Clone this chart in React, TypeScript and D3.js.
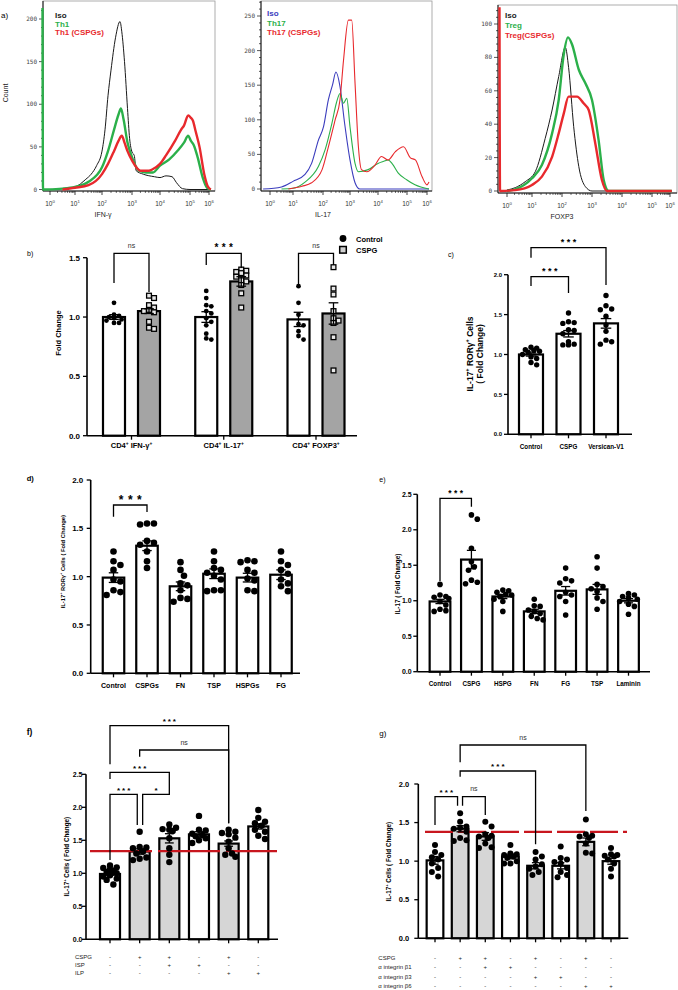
import React from 'react';
import * as d3 from 'd3';

const FONT = "'Liberation Sans', Arial, Helvetica, sans-serif";
const GREEN = '#2bb04a';
const RED = '#e8292d';
const BLUE = '#3b3dbd';
const ISO = '#1a1a1a';
const DASH_RED = '#c8161e';
const BAR_GREY = '#a4a4a4';
const BAR_LIGHT = '#d6d6d6';

// ---------------- a) flow cytometry histograms: [log10 decade, count] ----------------
const decades = [0, 1, 2, 3, 4, 5, 6];

const th1Legend = ['Iso', 'Th1', 'Th1 (CSPGs)'];
const th1Iso = [[0,0],[0.5,1],[1,3],[1.4,12],[1.6,18],[1.8,28],[2,45],[2.1,70],[2.2,110],[2.3,140],[2.45,178],[2.6,197],[2.66,185],[2.75,150],[2.85,95],[2.92,60],[3.0,44],[3.08,40],[3.15,22],[3.4,18],[3.8,15],[4.0,14],[4.2,16],[4.4,15],[4.55,8],[4.75,1],[5,0],[6.1,0]];
const th1Ctrl = [[-0.3,213],[-0.28,0],[0.5,1],[1,3],[1.5,9],[2,26],[2.2,45],[2.4,70],[2.55,88],[2.63,95],[2.72,82],[2.85,55],[3.0,38],[3.25,22],[3.5,20],[3.75,20],[4,28],[4.3,35],[4.6,46],[4.8,55],[4.94,63],[5.05,57],[5.2,52],[5.4,38],[5.67,14],[5.9,2],[6.1,0]];
const th1Cspg = [[0.5,0],[1,2],[1.5,5],[2,18],[2.2,30],[2.4,45],[2.55,57],[2.66,63],[2.75,55],[2.85,45],[3.0,34],[3.3,22],[3.6,22],[3.75,24],[4,30],[4.2,40],[4.5,57],[4.7,70],[4.8,75],[4.94,87],[5.05,84],[5.15,81],[5.3,68],[5.5,50],[5.75,18],[5.95,3],[6.1,0]];

const th17Legend = ['Iso', 'Th17', 'Th17 (CSPGs)'];
const th17Iso = [[-0.3,0],[0.5,3],[1,11],[1.4,21],[1.62,37],[1.85,71],[2.02,90],[2.2,129],[2.35,150],[2.48,169],[2.63,148],[2.8,95],[3,42],[3.18,9],[3.35,0],[6.1,0]];
const th17Ctrl = [[0.5,0],[1,1],[1.4,10],[1.85,33],[2.08,57],[2.33,95],[2.5,125],[2.63,138],[2.76,124],[2.88,131],[3,90],[3.18,37],[3.3,25],[3.65,28],[4,37],[4.2,40],[4.35,42],[4.5,36],[4.7,23],[5,13],[5.4,6],[6.1,0]];
const th17Cspg = [[0.8,0],[1.3,4],[1.62,9],[1.97,28],[2.2,61],[2.45,100],[2.63,129],[2.76,186],[2.94,244],[3.06,244],[3.18,153],[3.3,61],[3.41,28],[3.6,25],[3.9,35],[4.12,47],[4.35,42],[4.6,54],[4.88,61],[5.17,45],[5.42,42],[5.75,18],[6,6],[6.1,10]];

const tregLegend = ['Iso', 'Treg', 'Treg(CSPGs)'];
const tregIso = [[0,0.6],[0.33,2],[0.73,5.6],[1.11,11.6],[1.44,31.5],[1.67,48.5],[1.89,68.5],[2.11,86],[2.22,74],[2.39,38.5],[2.56,14.6],[2.78,2.6],[3,0],[6.1,0]];
const tregCtrl = [[0,0],[0.33,1],[1,7.6],[1.33,15.6],[1.67,34.5],[1.89,54.5],[2.06,82],[2.2,92],[2.33,88],[2.56,72.6],[2.78,64.5],[3,54.5],[3.22,30.5],[3.39,6.6],[3.56,0],[6.1,0]];
const tregCspg = [[-0.3,110],[-0.28,0],[0.33,0.5],[1,3.6],[1.33,8.6],[1.67,20.5],[1.89,34.5],[2.06,46.5],[2.22,56.5],[2.5,56.5],[2.72,52.5],[2.89,48.5],[3.11,28.5],[3.33,6.6],[3.5,0],[6.1,0]];

// ---------------- b) ----------------
const bGroups = ['IFN-γ', 'IL-17', 'FOXP3'];
const bCtrlMean = [1.0, 1.0, 0.98];
const bCtrlSem = [0.02, 0.045, 0.06];
const bCspgMean = [1.05, 1.30, 1.03];
const bCspgSem = [0.02, 0.04, 0.09];
const bCtrlPts = [
  [1.12, 1.02, 1.01, 1.0, 0.99, 0.98, 0.95, 0.95, 0.97],
  [1.22, 1.16, 1.10, 1.09, 1.05, 1.03, 0.99, 0.96, 0.93, 0.86, 0.81, 0.82],
  [1.26, 1.12, 1.02, 0.94, 0.93, 0.88, 0.84, 0.81],
];
const bCspgPts = [
  [1.18, 1.16, 1.10, 1.08, 1.06, 1.05, 1.04, 0.96, 0.90, 0.91],
  [1.40, 1.39, 1.38, 1.37, 1.35, 1.34, 1.31, 1.30, 1.27, 1.20, 1.08],
  [1.42, 1.24, 1.19, 1.05, 0.99, 0.97, 0.95, 0.83, 0.55],
];

// ---------------- c) ----------------
const cCats = ['Control', 'CSPG', 'Versican-V1'];
const cMean = [1.0, 1.26, 1.39];
const cSem = [0.02, 0.04, 0.06];
const cPts = [
  [1.09, 1.08, 1.06, 1.05, 1.04, 1.03, 1.0, 0.97, 0.95, 0.90, 0.87],
  [1.52, 1.41, 1.40, 1.39, 1.31, 1.30, 1.26, 1.16, 1.13, 1.12, 1.12],
  [1.74, 1.61, 1.57, 1.56, 1.48, 1.37, 1.29, 1.18, 1.16, 1.13],
];

// ---------------- d) ----------------
const dCats = ['Control', 'CSPGs', 'FN', 'TSP', 'HSPGs', 'FG'];
const dMean = [0.99, 1.32, 0.90, 1.03, 0.99, 1.02];
const dSem = [0.05, 0.05, 0.045, 0.05, 0.045, 0.05];
const dPts = [
  [1.26, 1.16, 1.12, 1.07, 0.97, 0.95, 0.86, 0.84, 0.81],
  [1.55, 1.55, 1.54, 1.37, 1.35, 1.33, 1.26, 1.16, 1.09],
  [1.15, 1.07, 1.01, 0.93, 0.91, 0.86, 0.78, 0.77, 0.74],
  [1.26, 1.16, 1.09, 1.07, 1.04, 1.01, 0.97, 0.86, 0.85, 0.86],
  [1.17, 1.16, 1.15, 1.07, 1.04, 0.98, 0.96, 0.86, 0.85],
  [1.26, 1.16, 1.12, 1.07, 1.03, 0.97, 0.93, 0.90, 0.85],
];

// ---------------- e) ----------------
const eCats = ['Control', 'CSPG', 'HSPG', 'FN', 'FG', 'TSP', 'Laminin'];
const eMean = [0.99, 1.58, 1.06, 0.85, 1.14, 1.16, 1.0];
const eSem = [0.03, 0.13, 0.03, 0.03, 0.06, 0.07, 0.03];
const ePts = [
  [1.23, 1.08, 1.06, 1.05, 1.03, 0.99, 0.94, 0.88, 0.86, 0.85],
  [2.21, 2.15, 1.74, 1.55, 1.48, 1.43, 1.29, 1.26, 1.24],
  [1.15, 1.14, 1.12, 1.09, 1.08, 1.06, 1.02, 0.99, 0.85],
  [1.02, 0.93, 0.92, 0.87, 0.85, 0.82, 0.78, 0.75, 0.73],
  [1.46, 1.31, 1.28, 1.25, 1.12, 1.08, 1.06, 0.99, 0.80],
  [1.62, 1.46, 1.23, 1.20, 1.17, 1.13, 1.04, 0.99, 0.88],
  [1.10, 1.08, 1.06, 1.04, 1.02, 0.99, 0.95, 0.92, 0.81],
];

// ---------------- f) ----------------
const fCspg = ['-', '+', '+', '-', '+', '-'];
const fIsp = ['-', '-', '+', '+', '-', '-'];
const fIlp = ['-', '-', '-', '-', '+', '+'];
const fMean = [0.99, 1.33, 1.53, 1.59, 1.45, 1.71];
const fSem = [0.02, 0.04, 0.07, 0.04, 0.04, 0.04];
const fThreshold = 1.335;
const fPts = [
  [1.12, 1.09, 1.08, 1.06, 1.04, 1.02, 1.0, 0.97, 0.95, 0.92, 0.90, 0.83],
  [1.63, 1.40, 1.39, 1.38, 1.33, 1.30, 1.24, 1.22, 1.20],
  [1.74, 1.69, 1.67, 1.66, 1.64, 1.53, 1.38, 1.28, 1.17],
  [1.87, 1.66, 1.65, 1.60, 1.58, 1.56, 1.53, 1.50, 1.46],
  [1.66, 1.63, 1.61, 1.59, 1.54, 1.48, 1.38, 1.30, 1.28, 1.25],
  [1.96, 1.84, 1.78, 1.76, 1.72, 1.66, 1.63, 1.57, 1.52],
];

// ---------------- g) ----------------
const gCspg = ['-', '+', '+', '-', '+', '-', '+', '-'];
const gB1 = ['-', '-', '+', '+', '-', '-', '-', '-'];
const gB3 = ['-', '-', '-', '-', '+', '+', '-', '-'];
const gB6 = ['-', '-', '-', '-', '-', '-', '+', '+'];
const gMean = [1.01, 1.42, 1.32, 1.06, 0.94, 0.94, 1.25, 1.0];
const gSem = [0.05, 0.04, 0.05, 0.03, 0.04, 0.04, 0.05, 0.04];
const gThreshold = 1.38;
const gPts = [
  [1.21, 1.12, 1.08, 1.05, 1.02, 0.97, 0.91, 0.86, 0.80],
  [1.62, 1.51, 1.45, 1.43, 1.42, 1.38, 1.30, 1.27, 1.26],
  [1.51, 1.45, 1.35, 1.33, 1.32, 1.30, 1.23, 1.18, 1.17],
  [1.21, 1.10, 1.09, 1.08, 1.06, 1.04, 1.0, 0.97, 0.97],
  [1.12, 1.06, 1.02, 0.96, 0.93, 0.90, 0.86, 0.82],
  [1.19, 1.04, 1.02, 0.99, 0.97, 0.91, 0.86, 0.82, 0.79],
  [1.54, 1.35, 1.33, 1.32, 1.30, 1.23, 1.11, 1.10],
  [1.17, 1.09, 1.08, 1.07, 1.06, 1.02, 0.97, 0.90, 0.80],
];

// ---------------- helpers ----------------
function Rich({ s, fs }: { s: string; fs: number }) {
  const parts = s.split('^');
  const out: any[] = [];
  parts.forEach((p, i) => {
    if (i === 0) { out.push(<tspan key={'a' + i}>{p}</tspan>); return; }
    out.push(<tspan key={'s' + i} dy={-fs * 0.42} fontSize={fs * 0.65}>{p[0]}</tspan>);
    if (p.length > 1) out.push(<tspan key={'r' + i} dy={fs * 0.42} fontSize={fs}>{p.slice(1)}</tspan>);
  });
  return <>{out}</>;
}

function swarm(vals: number[], yf: (v: number) => number, r: number, maxOff: number) {
  const placed: { x: number; y: number }[] = [];
  const out = vals.map(() => 0);
  const order = vals.map((_, i) => i).sort((a, b) => vals[b] - vals[a]);
  const step = r * 1.05;
  for (const i of order) {
    const py = yf(vals[i]);
    let best = 0; let bestD = -1;
    for (let k = 0; k < 15; k++) {
      const off = k === 0 ? 0 : (k % 2 ? 1 : -1) * Math.ceil(k / 2) * step;
      if (Math.abs(off) > maxOff) continue;
      let md = Infinity;
      for (const q of placed) md = Math.min(md, Math.hypot(q.x - off, q.y - py));
      if (md >= 1.9 * r) { best = off; bestD = md; break; }
      if (md > bestD) { bestD = md; best = off; }
    }
    placed.push({ x: best, y: py });
    out[i] = best;
  }
  return out;
}

function Hist(p: any) {
  const x = d3.scaleLinear().domain(decades).range(p.decPx);
  const y = d3.scaleLinear().domain([0, p.yRef[0]]).range([p.yZero, p.yRef[1]]);
  const line = d3.line<any>().x((d) => x(d[0])).y((d) => y(d[1])).curve(d3.curveMonotoneX);
  const minor = d3.range(0, 400, p.yMinor).filter((m) => y(m) >= p.top + 1);
  const xMinor: number[] = [];
  for (let d = 0; d < 6; d++) for (let k = 2; k < 10; k++) xMinor.push(d + Math.log10(k));
  const cid = 'clip-' + p.id;
  return (
    <g>
      <defs>
        <clipPath id={cid}>
          <rect x={p.left - 2} y={p.top} width={p.right - p.left + 2} height={p.bottom - p.top} />
        </clipPath>
      </defs>
      <rect x={p.left} y={p.top} width={p.right - p.left} height={p.bottom - p.top} fill="none" stroke="#9a9a9a" strokeWidth={0.8} />
      <line x1={p.left} x2={p.left} y1={p.top} y2={p.bottom} stroke="#111" strokeWidth={1} />
      <line x1={p.left} x2={p.right} y1={p.bottom} y2={p.bottom} stroke="#111" strokeWidth={1} />
      {minor.map((m) => (
        <line key={'ym' + m} x1={p.left - (p.yTicks.includes(m) ? 4 : 2)} x2={p.left} y1={y(m)} y2={y(m)} stroke="#111" strokeWidth={0.7} />
      ))}
      {p.yTicks.map((t: number) => (
        <text key={'yt' + t} x={p.left - 6} y={y(t) + 2} fontSize={6} textAnchor="end" fill="#444" fontFamily="'DejaVu Sans Mono', monospace">{t}</text>
      ))}
      {xMinor.map((d, i) => (
        <line key={'xm' + i} x1={x(d)} x2={x(d)} y1={p.bottom} y2={p.bottom + 2} stroke="#111" strokeWidth={0.6} />
      ))}
      {decades.map((d) => (
        <g key={'xd' + d}>
          <line x1={x(d)} x2={x(d)} y1={p.bottom} y2={p.bottom + 4} stroke="#111" strokeWidth={0.8} />
          <text x={x(d)} y={p.bottom + 15} fontSize={6.5} textAnchor="middle" fill="#333"><Rich s={'10^' + d} fs={6.5} /></text>
        </g>
      ))}
      <text x={p.xLabelX} y={p.bottom + 26} fontSize={7} textAnchor="middle" fill="#222">{p.xLabel}</text>
      <g clipPath={`url(#${cid})`}>
        {p.series.map((s: any, i: number) => (
          <path key={i} d={line(s.data) || ''} fill="none" stroke={s.color} strokeWidth={s.width} strokeLinejoin="round" />
        ))}
      </g>
      {p.legend.map((l: string, i: number) => (
        <text key={'lg' + i} x={p.legendX} y={p.legendY + i * p.legendDy} fontSize={8} fontWeight="bold" fill={p.series[i].color}>{l}</text>
      ))}
    </g>
  );
}

function BarPanel({ cfg, items }: any) {
  const y = d3.scaleLinear().domain([0, cfg.yMax]).range([cfg.y0, cfg.yTop]);
  const fmt = d3.format('.1f');
  const xs: number[] = cfg.xs;
  const bw = cfg.bw;
  return (
    <g>
      {items.map((it: any, i: number) => (
        <rect key={'b' + i} x={xs[i] - bw / 2} y={y(it.v)} width={bw} height={cfg.y0 - y(it.v)} fill={it.fill} stroke="#000" strokeWidth={cfg.sw} />
      ))}
      {cfg.threshold != null && (
        <line x1={cfg.thrX[0]} x2={cfg.thrX[1]} y1={y(cfg.threshold)} y2={y(cfg.threshold)} stroke={DASH_RED} strokeWidth={2.2} strokeDasharray={cfg.dash} />
      )}
      {items.map((it: any, i: number) => {
        const r = cfg.r;
        const offs = swarm(it.pts, y, r, bw / 2 - r * 0.4);
        return (
          <g key={'p' + i}>
            {it.pts.map((v: number, j: number) =>
              it.marker === 'square' ? (
                <rect key={j} x={xs[i] + offs[j] - r} y={y(v) - r} width={2 * r} height={2 * r} fill="#e8e8e8" stroke="#000" strokeWidth={1.3} />
              ) : (
                <circle key={j} cx={xs[i] + offs[j]} cy={y(v)} r={r} fill="#000" />
              )
            )}
          </g>
        );
      })}
      {items.map((it: any, i: number) => {
        const cw = bw * 0.22;
        return (
          <g key={'e' + i} stroke="#000" strokeWidth={1.3}>
            <line x1={xs[i]} x2={xs[i]} y1={y(it.v - it.e)} y2={y(it.v + it.e)} />
            <line x1={xs[i] - cw} x2={xs[i] + cw} y1={y(it.v + it.e)} y2={y(it.v + it.e)} />
            <line x1={xs[i] - cw} x2={xs[i] + cw} y1={y(it.v - it.e)} y2={y(it.v - it.e)} />
          </g>
        );
      })}
      {/* axes */}
      <line x1={cfg.axisX} x2={cfg.axisX} y1={cfg.y0} y2={cfg.yTop} stroke="#000" strokeWidth={1.6} />
      <line x1={cfg.axisX} x2={cfg.axisEnd} y1={cfg.y0} y2={cfg.y0} stroke="#000" strokeWidth={1.6} />
      {cfg.ticks.map((t: number) => (
        <g key={'t' + t}>
          <line x1={cfg.axisX - 4} x2={cfg.axisX} y1={y(t)} y2={y(t)} stroke="#000" strokeWidth={1.3} />
          <text x={cfg.axisX - cfg.tickGap} y={y(t) + cfg.tickFs * 0.36} fontSize={cfg.tickFs} fontWeight="bold" textAnchor="end">{fmt(t)}</text>
        </g>
      ))}
      {cfg.tickXs.map((tx: number, i: number) => (
        <line key={'xt' + i} x1={tx} x2={tx} y1={cfg.y0} y2={cfg.y0 + 4} stroke="#000" strokeWidth={1.3} />
      ))}
      {(cfg.brackets || []).map((br: any, i: number) => {
        const xa = xs[br.a] + (br.oa || 0);
        const xb = xs[br.b] + (br.ob || 0);
        const mid = (xa + xb) / 2;
        const star = br.t !== 'ns';
        return (
          <g key={'br' + i}>
            <path d={`M${xa},${br.ya}V${br.y}H${xb}V${br.yb}`} fill="none" stroke="#000" strokeWidth={1.3} />
            {star ? (
              <text x={mid + cfg.starLs / 2} y={br.y - cfg.starGap} fontSize={cfg.starFs} fontWeight="bold" letterSpacing={cfg.starLs} textAnchor="middle">{br.t}</text>
            ) : (
              <text x={mid} y={br.y - 5.5} fontSize={7} textAnchor="middle" fill="#333">{br.t}</text>
            )}
          </g>
        );
      })}
    </g>
  );
}

function YLabel({ x, y, s, fs }: any) {
  return (
    <text transform={`translate(${x},${y}) rotate(-90)`} fontSize={fs} fontWeight="bold" textAnchor="middle">
      <Rich s={s} fs={fs} />
    </text>
  );
}

function TableRows({ rows, labelX, ys, xs, fs }: any) {
  return (
    <g fontSize={fs} fill="#222">
      {rows.map((row: any, ri: number) => (
        <g key={ri}>
          <text x={labelX} y={ys[ri]}>{row.label}</text>
          {row.vals.map((v: string, i: number) => (
            <text key={i} x={xs[i]} y={ys[ri]} textAnchor="middle">{v}</text>
          ))}
        </g>
      ))}
    </g>
  );
}

export default function App() {
  // ---- b layout ----
  const bxg = d3.scalePoint<string>().domain(bGroups).range([131.5, 316]);
  const bItems: any[] = [];
  const bXs: number[] = [];
  bGroups.forEach((g, i) => {
    bItems.push({ v: bCtrlMean[i], e: bCtrlSem[i], pts: bCtrlPts[i], fill: '#fff', marker: 'circle' });
    bXs.push((bxg(g) as number) - 17.5);
    bItems.push({ v: bCspgMean[i], e: bCspgSem[i], pts: bCspgPts[i], fill: BAR_GREY, marker: 'square' });
    bXs.push((bxg(g) as number) + 17.5);
  });
  const bGX = bGroups.map((g) => bxg(g) as number);

  const pointScale = (cats: string[], r0: number, r1: number) => {
    const s = d3.scalePoint<string>().domain(cats).range([r0, r1]);
    return cats.map((c) => s(c) as number);
  };

  const cXs = pointScale(cCats, 531, 606);
  const dXs = pointScale(dCats, 113.5, 281);
  const eXs = pointScale(eCats, 440, 628.5);
  const fIdx = fMean.map((_, i) => 'f' + i);
  const fXs = pointScale(fIdx, 110, 258.3);
  const gIdx = gMean.map((_, i) => 'g' + i);
  const gXs = pointScale(gIdx, 435, 611);

  const mk = (means: number[], sems: number[], pts: number[][], fills: string[]) =>
    means.map((v, i) => ({ v, e: sems[i], pts: pts[i], fill: fills[i], marker: 'circle' }));

  const cItems = mk(cMean, cSem, cPts, cCats.map(() => '#fff'));
  const dItems = mk(dMean, dSem, dPts, dCats.map(() => '#fff'));
  const eItems = mk(eMean, eSem, ePts, eCats.map(() => '#fff'));
  const fItems = mk(fMean, fSem, fPts, fCspg.map((s) => (s === '+' ? BAR_LIGHT : '#fff')));
  const gItems = mk(gMean, gSem, gPts, gCspg.map((s) => (s === '+' ? BAR_LIGHT : '#fff')));

  return (
    <svg width={678} height={990} viewBox="0 0 678 990" style={{ position: 'absolute', left: 0, top: 0, background: '#fff' }} fontFamily={FONT}>
      <rect width={678} height={990} fill="#fff" />

      {/* ===== a ===== */}
      <text x={1} y={18} fontSize={8}>a)</text>
      <text transform="translate(8,93) rotate(-90)" fontSize={7} textAnchor="middle" fill="#222">Count</text>
      <Hist id="h1" left={43} right={215} top={1} bottom={191} decPx={[50, 75, 102, 132, 160, 190, 209]}
        yZero={189.5} yRef={[200, 19]} yTicks={[0, 50, 100, 150, 200]} yMinor={10}
        series={[{ data: th1Iso, color: ISO, width: 1 }, { data: th1Ctrl, color: GREEN, width: 2.4 }, { data: th1Cspg, color: RED, width: 2.4 }]}
        legend={th1Legend} legendX={55} legendY={18.3} legendDy={8.3} xLabel="IFN-γ" xLabelX={103} />
      <Hist id="h2" left={261} right={432} top={1} bottom={191} decPx={[270, 293, 323, 350, 378, 407, 427]}
        yZero={189} yRef={[250, 16]} yTicks={[0, 50, 100, 150, 200, 250]} yMinor={10}
        series={[{ data: th17Iso, color: BLUE, width: 1.1 }, { data: th17Ctrl, color: GREEN, width: 1.1 }, { data: th17Cspg, color: RED, width: 1.1 }]}
        legend={th17Legend} legendX={267} legendY={16} legendDy={9.6} xLabel="IL-17" xLabelX={323} />
      <Hist id="h3" left={498} right={677} top={5} bottom={193} decPx={[507, 532, 562, 592, 622, 652, 670]}
        yZero={191} yRef={[100, 24]} yTicks={[0, 20, 40, 60, 80, 100]} yMinor={4}
        series={[{ data: tregIso, color: ISO, width: 1 }, { data: tregCtrl, color: GREEN, width: 2.4 }, { data: tregCspg, color: RED, width: 2.4 }]}
        legend={tregLegend} legendX={505} legendY={18.3} legendDy={9.7} xLabel="FOXP3" xLabelX={562} />

      {/* ===== b ===== */}
      <text x={27} y={255.5} fontSize={7}>b)</text>
      <YLabel x={60.5} y={333} s="Fold Change" fs={7.5} />
      <BarPanel items={bItems} cfg={{
        xs: bXs, bw: 22, axisX: 87, axisEnd: 357, y0: 435.7, yTop: 257.7, yMax: 1.5, ticks: [0, 0.5, 1, 1.5],
        tickFs: 8, tickGap: 7, r: 2.4, sw: 2.2, tickXs: bGX, starFs: 10, starLs: 3.4, starGap: 2.3,
        brackets: [
          { a: 0, b: 1, y: 253.3, ya: 283, yb: 292, t: 'ns' },
          { a: 2, b: 3, y: 253.3, ya: 265, yb: 268, t: '***' },
          { a: 4, b: 5, y: 253.3, ya: 285, yb: 265, t: 'ns' },
        ],
      }} />
      {bGroups.map((g, i) => (
        <text key={'bl' + i} x={bGX[i]} y={448} fontSize={7.5} fontWeight="bold" textAnchor="middle">
          <Rich s={'CD4^+ ' + g + '^+'} fs={7.5} />
        </text>
      ))}
      <circle cx={343} cy={238.5} r={3.4} fill="#000" />
      <text x={356} y={241.5} fontSize={7.5} fontWeight="bold">Control</text>
      <rect x={339.7} y={246.5} width={6.6} height={6.6} fill="#cfcfcf" stroke="#000" strokeWidth={1.5} />
      <text x={356} y={253} fontSize={7.5} fontWeight="bold">CSPG</text>

      {/* ===== c ===== */}
      <text x={448} y={256.5} fontSize={7}>c)</text>
      <YLabel x={472.7} y={354} s="IL-17^+ RORγ^+ Cells" fs={8.5} />
      <YLabel x={483.3} y={354} s="( Fold Change)" fs={8.5} />
      <BarPanel items={cItems} cfg={{
        xs: cXs, bw: 24, axisX: 508, axisEnd: 632, y0: 434.3, yTop: 274.7, yMax: 2, ticks: [0, 0.5, 1, 1.5, 2],
        tickFs: 6, tickGap: 6, r: 2.7, sw: 2.2, tickXs: cXs, starFs: 9, starLs: 2.5, starGap: 2.8,
        brackets: [
          { a: 0, b: 1, y: 276.7, ya: 286, yb: 293, t: '***' },
          { a: 0, b: 2, y: 247.7, ya: 257.7, yb: 285, t: '***' },
        ],
      }} />
      {cCats.map((c, i) => (
        <text key={'cl' + i} x={cXs[i]} y={449} fontSize={6.3} fontWeight="bold" textAnchor="middle">{c}</text>
      ))}

      {/* ===== d ===== */}
      <text x={26.7} y={481} fontSize={7.5} fontWeight="bold">d)</text>
      <YLabel x={64.5} y={561.7} s="IL-17^+ RORγ^+ Cells ( Fold Change)" fs={5.8} />
      <BarPanel items={dItems} cfg={{
        xs: dXs, bw: 21.5, axisX: 90.7, axisEnd: 300, y0: 673.3, yTop: 480, yMax: 2, ticks: [0, 0.5, 1, 1.5, 2],
        tickFs: 8, tickGap: 7.4, r: 3.3, sw: 2.2, tickXs: dXs, starFs: 12, starLs: 4.5, starGap: 0.8,
        brackets: [{ a: 0, b: 1, y: 505, ya: 516.7, yb: 512, t: '***' }],
      }} />
      {dCats.map((c, i) => (
        <text key={'dl' + i} x={dXs[i]} y={688} fontSize={7} fontWeight="bold" textAnchor="middle">{c}</text>
      ))}

      {/* ===== e ===== */}
      <text x={379.3} y={482} fontSize={7}>e)</text>
      <YLabel x={399.5} y={584} s="IL-17 ( Fold Change)" fs={6.3} />
      <BarPanel items={eItems} cfg={{
        xs: eXs, bw: 20.7, axisX: 417.3, axisEnd: 650, y0: 671.7, yTop: 494.3, yMax: 2.5, ticks: [0, 0.5, 1, 1.5, 2, 2.5],
        tickFs: 7, tickGap: 5.6, r: 2.8, sw: 2.2, tickXs: eXs, starFs: 8.5, starLs: 2.4, starGap: 2.3,
        brackets: [{ a: 0, b: 1, y: 498.3, ya: 581, yb: 506.7, t: '***' }],
      }} />
      {eCats.map((c, i) => (
        <text key={'el' + i} x={eXs[i]} y={685.5} fontSize={6.3} fontWeight="bold" textAnchor="middle">{c}</text>
      ))}

      {/* ===== f ===== */}
      <text x={26.7} y={735} fontSize={8.5} fontWeight="bold">f)</text>
      <YLabel x={69} y={856.7} s="IL-17^+ Cells ( Fold Change)" fs={6.3} />
      <BarPanel items={fItems} cfg={{
        xs: fXs, bw: 20, axisX: 86, axisEnd: 278, y0: 939.3, yTop: 774.3, yMax: 2.5, ticks: [0, 0.5, 1, 1.5, 2, 2.5],
        tickFs: 7, tickGap: 3.5, r: 3.2, sw: 2.2, tickXs: fXs, starFs: 8, starLs: 2, starGap: 1.5,
        threshold: fThreshold, thrX: [90, 277], dash: '62 6',
        brackets: [
          { a: 0, b: 4, y: 725.7, ya: 764.3, yb: 823.3, t: '***' },
          { a: 1, b: 4, y: 750, ya: 756.7, yb: 823.3, t: 'ns' },
          { a: 0, b: 2, y: 772.3, ya: 779, yb: 789, t: '***' },
          { a: 0, b: 1, y: 794.3, ya: 860, yb: 825, t: '***', ob: -2.4 },
          { a: 1, b: 2, y: 794.3, ya: 825, yb: 789, t: '*', oa: 3 },
        ],
      }} />
      <TableRows labelX={75} ys={[958.7, 967, 975.3]} xs={fXs} fs={6}
        rows={[{ label: 'CSPG', vals: fCspg }, { label: 'ISP', vals: fIsp }, { label: 'ILP', vals: fIlp }]} />

      {/* ===== g ===== */}
      <text x={379.3} y={736} fontSize={8}>g)</text>
      <YLabel x={391} y={861.7} s="IL-17^+ Cells ( Fold Change)" fs={6.3} />
      <BarPanel items={gItems} cfg={{
        xs: gXs, bw: 16.7, axisX: 418.3, axisEnd: 628.3, y0: 938.3, yTop: 784, yMax: 2, ticks: [0, 0.5, 1, 1.5, 2],
        tickFs: 7.5, tickGap: 9, r: 3.0, sw: 2.2, tickXs: gXs, starFs: 8, starLs: 2.2, starGap: 2.1,
        threshold: gThreshold, thrX: [425, 627], dash: '28 5',
        brackets: [
          { a: 1, b: 6, y: 745, ya: 762.3, yb: 811, t: 'ns' },
          { a: 1, b: 4, y: 771, ya: 776.7, yb: 844.3, t: '***' },
          { a: 0, b: 1, y: 796.7, ya: 825, yb: 805.7, t: '***', ob: -2.6 },
          { a: 1, b: 2, y: 796.7, ya: 805.7, yb: 815, t: 'ns', oa: 2.4 },
        ],
      }} />
      <TableRows labelX={378.3} ys={[959.7, 969.3, 978.7, 987.7]} xs={gXs} fs={6}
        rows={[
          { label: 'CSPG', vals: gCspg },
          { label: 'α integrin β1', vals: gB1 },
          { label: 'α integrin β3', vals: gB3 },
          { label: 'α integrin β6', vals: gB6 },
        ]} />
    </svg>
  );
}
